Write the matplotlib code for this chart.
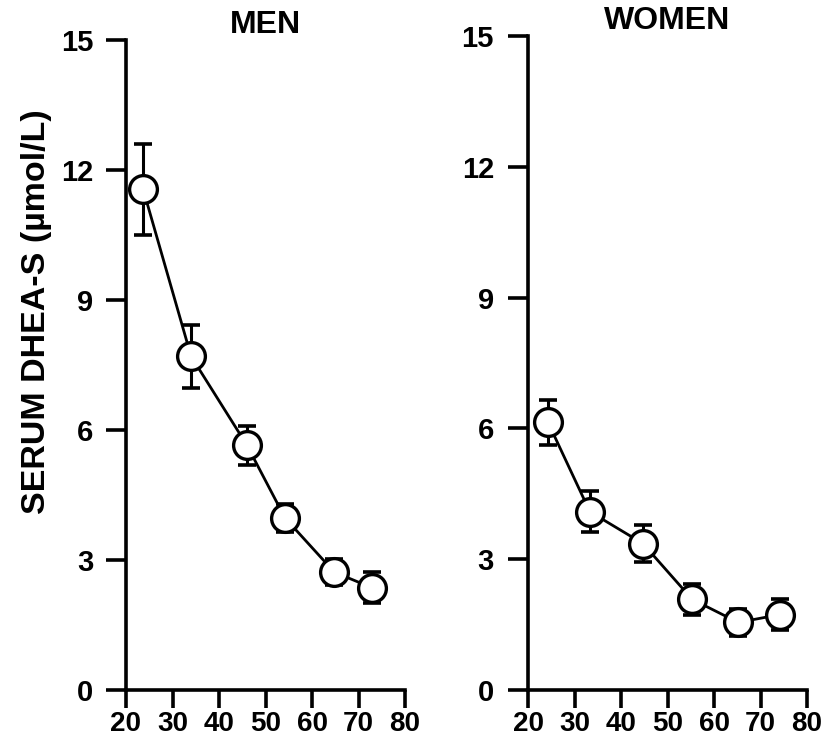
import matplotlib
matplotlib.use('Agg')
import matplotlib.pyplot as plt

# Serum DHEA-S by age group
men_age = [23.7, 34.0, 46.0, 54.2, 64.8, 72.9]
men_mean = [11.55, 7.70, 5.65, 3.97, 2.72, 2.36]
men_err = [1.05, 0.72, 0.45, 0.33, 0.30, 0.36]

women_age = [24.3, 33.3, 44.7, 55.3, 65.2, 74.2]
women_mean = [6.14, 4.09, 3.36, 2.08, 1.55, 1.73]
women_err = [0.52, 0.47, 0.42, 0.36, 0.30, 0.36]

x_ticks = [20, 30, 40, 50, 60, 70, 80]
y_ticks = [0, 3, 6, 9, 12, 15]

plt.rcParams['font.family'] = ['Liberation Sans', 'DejaVu Sans']
plt.rcParams['font.weight'] = 'bold'

W, H = 835, 742


def panel(fig, rect, ages, means, errs, title, ytick_pad):
    ax = fig.add_axes(rect)
    ax.errorbar(ages, means, yerr=errs, fmt='none', ecolor='black',
                elinewidth=2.2, capsize=6.5, capthick=2.6, zorder=2)
    ax.plot(ages, means, color='black', linewidth=2.0, zorder=3)
    ax.plot(ages, means, linestyle='none', marker='o', markersize=20,
            markerfacecolor='white', markeredgecolor='black',
            markeredgewidth=2.4, zorder=4)

    ax.set_xlim(20, 80)
    ax.set_ylim(0, 15)
    ax.set_xticks(x_ticks)
    ax.set_yticks(y_ticks)
    ax.spines['top'].set_visible(False)
    ax.spines['right'].set_visible(False)
    for s in ('left', 'bottom'):
        ax.spines[s].set_linewidth(2.6)
    ax.tick_params(axis='y', direction='out', length=14.5, width=2.6,
                   labelsize=21, pad=ytick_pad)
    ax.tick_params(axis='x', direction='out', length=13, width=2.6,
                   labelsize=20, pad=2)
    for lab in ax.get_xticklabels() + ax.get_yticklabels():
        lab.set_fontweight('bold')
    ax.set_title(title, fontsize=23, fontweight='bold', pad=3)
    return ax


def main():
    fig = plt.figure(figsize=(W / 100, H / 100), dpi=100)

    panel(fig, [126 / W, 1 - 690 / H, 279 / W, 650 / H],
          men_age, men_mean, men_err, 'MEN', 9)
    panel(fig, [528 / W, 1 - 690 / H, 279 / W, 654 / H],
          women_age, women_mean, women_err, 'WOMEN', 10)

    fig.text(37 / W, 1 - 312 / H, 'SERUM DHEA-S (\u00b5mol/L)', rotation=90,
             ha='center', va='center', fontsize=24.5, fontweight='bold')

    fig.savefig('out.png', dpi=100)


if __name__ == "__main__":
    main()
